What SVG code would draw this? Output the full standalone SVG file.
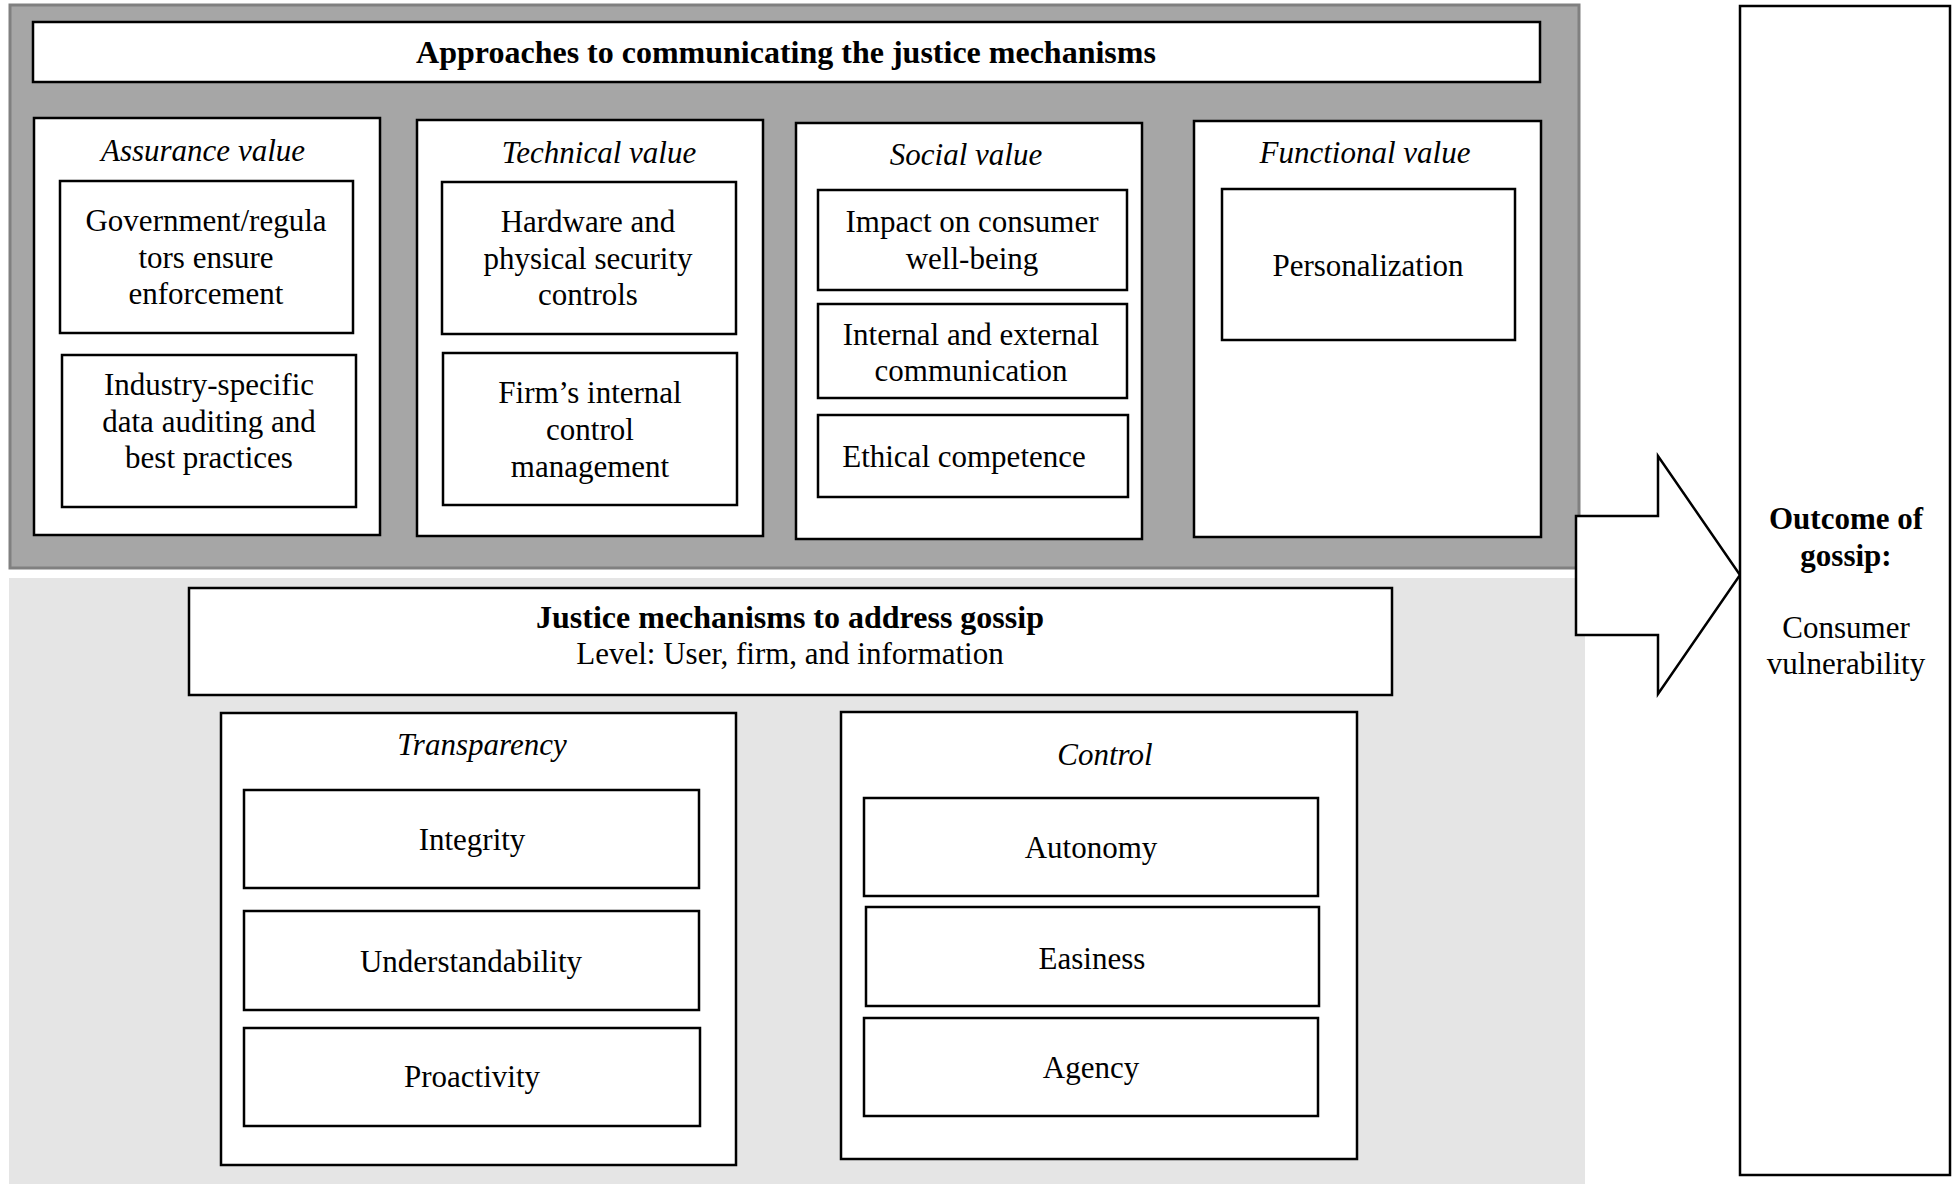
<svg xmlns="http://www.w3.org/2000/svg" width="1955" height="1184" viewBox="0 0 1955 1184">
<style>
  text { font-family: "Liberation Serif", "Times New Roman", serif; font-size: 31px; fill: #000; text-anchor: middle; }
  .b { font-weight: bold; }
  .t { font-size: 32px; }
  .i { font-style: italic; }
  .box { fill: #fff; stroke: #000; stroke-width: 2.5; }
</style>
<rect width="1955" height="1184" fill="#fff"/>
<g id="panel-approaches">
  <rect x="10" y="5" width="1569" height="563" fill="#a6a6a6" stroke="#808080" stroke-width="3"/>
</g>
<g id="panel-justice">
  <rect x="9" y="578" width="1576" height="606" fill="#e5e5e5"/>
</g>
<g id="title-approaches">
  <rect class="box" x="33" y="22" width="1507" height="60"/>
  <text class="b t" x="786" y="63">Approaches to communicating the justice mechanisms</text>
</g>
<g id="assurance">
  <rect class="box" x="34" y="118" width="346" height="417"/>
  <text class="i" x="203" y="161">Assurance value</text>
</g>
<g id="government">
  <rect class="box" x="60" y="181" width="293" height="152"/>
  <text x="206" y="231">Government/regula</text>
  <text x="206" y="268">tors ensure</text>
  <text x="206" y="304">enforcement</text>
</g>
<g id="industry">
  <rect class="box" x="62" y="355" width="294" height="152"/>
  <text x="209" y="395">Industry-specific</text>
  <text x="209" y="432">data auditing and</text>
  <text x="209" y="468">best practices</text>
</g>
<g id="technical">
  <rect class="box" x="417" y="120" width="346" height="416"/>
  <text class="i" x="599" y="163">Technical value</text>
</g>
<g id="hardware">
  <rect class="box" x="442" y="182" width="294" height="152"/>
  <text x="588" y="232">Hardware and</text>
  <text x="588" y="269">physical security</text>
  <text x="588" y="305">controls</text>
</g>
<g id="firm">
  <rect class="box" x="443" y="353" width="294" height="152"/>
  <text x="590" y="403">Firm’s internal</text>
  <text x="590" y="440">control</text>
  <text x="590" y="477">management</text>
</g>
<g id="social">
  <rect class="box" x="796" y="123" width="346" height="416"/>
  <text class="i" x="966" y="165">Social value</text>
</g>
<g id="impact">
  <rect class="box" x="818" y="190" width="309" height="100"/>
  <text x="972" y="232">Impact on consumer</text>
  <text x="972" y="269">well-being</text>
</g>
<g id="communication">
  <rect class="box" x="818" y="304" width="309" height="94"/>
  <text x="971" y="345">Internal and external</text>
  <text x="971" y="381">communication</text>
</g>
<g id="ethical">
  <rect class="box" x="818" y="415" width="310" height="82"/>
  <text x="964" y="467">Ethical competence</text>
</g>
<g id="functional">
  <rect class="box" x="1194" y="121" width="347" height="416"/>
  <text class="i" x="1365" y="163">Functional value</text>
</g>
<g id="personalization">
  <rect class="box" x="1222" y="189" width="293" height="151"/>
  <text x="1368" y="276">Personalization</text>
</g>
<g id="justice-title">
  <rect class="box" x="189" y="588" width="1203" height="107"/>
  <text class="b t" x="790" y="628">Justice mechanisms to address gossip</text>
  <text x="790" y="664">Level: User, firm, and information</text>
</g>
<g id="transparency">
  <rect class="box" x="221" y="713" width="515" height="452"/>
  <text class="i" x="482" y="755">Transparency</text>
</g>
<g id="integrity">
  <rect class="box" x="244" y="790" width="455" height="98"/>
  <text x="472" y="850">Integrity</text>
</g>
<g id="understandability">
  <rect class="box" x="244" y="911" width="455" height="99"/>
  <text x="471" y="972">Understandability</text>
</g>
<g id="proactivity">
  <rect class="box" x="244" y="1028" width="456" height="98"/>
  <text x="472" y="1087">Proactivity</text>
</g>
<g id="control">
  <rect class="box" x="841" y="712" width="516" height="447"/>
  <text class="i" x="1105" y="765">Control</text>
</g>
<g id="autonomy">
  <rect class="box" x="864" y="798" width="454" height="98"/>
  <text x="1091" y="858">Autonomy</text>
</g>
<g id="easiness">
  <rect class="box" x="866" y="907" width="453" height="99"/>
  <text x="1092" y="969">Easiness</text>
</g>
<g id="agency">
  <rect class="box" x="864" y="1018" width="454" height="98"/>
  <text x="1091" y="1078">Agency</text>
</g>
<g id="connectors">
  <polygon points="1576,516 1658,516 1658,456 1740,575 1658,694 1658,635 1576,635" fill="#fff" stroke="#000" stroke-width="2.5" stroke-linejoin="miter"/>
</g>
<g id="outcome">
  <rect class="box" x="1740" y="6" width="210" height="1169"/>
  <text class="b" x="1846" y="529">Outcome of</text>
  <text class="b" x="1846" y="566">gossip:</text>
  <text x="1846" y="638">Consumer</text>
  <text x="1846" y="674">vulnerability</text>
</g>
</svg>
